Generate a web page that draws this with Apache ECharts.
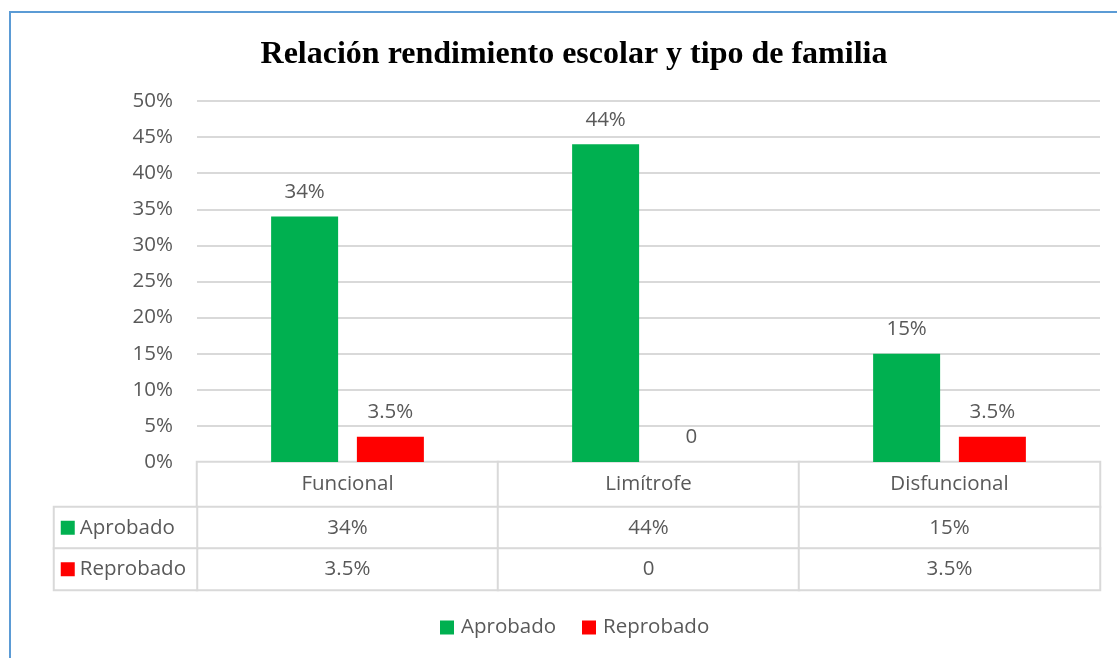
<!DOCTYPE html>
<html>
<head>
<meta charset="utf-8">
<script src="https://cdn.jsdelivr.net/npm/echarts@6/dist/echarts.min.js"></script>
<style>
html,body{margin:0;padding:0;background:#fff;}
#frame{position:absolute;left:9px;top:11px;width:1200px;height:700px;border:2px solid #5b9bd5;box-sizing:border-box;}
#c{position:absolute;left:0;top:0;width:1117px;height:658px;}
</style>
</head>
<body>
<div id="frame"></div>
<div id="c"></div>
<script>
const titleText = 'Relación rendimiento escolar y tipo de familia';
const categories = ['Funcional', 'Limítrofe', 'Disfuncional'];
const seriesNames = ['Aprobado', 'Reprobado'];
const aprobado = [34, 44, 15];
const reprobado = [3.5, 0, 3.5];
const yTicks = [0, 5, 10, 15, 20, 25, 30, 35, 40, 45, 50];
const colors = ['#00b050', '#ff0000'];

const FONT = '"Open Sans", "Noto Sans", sans-serif';
const FS = 20.5;
const TXT = '#595959';
const GRIDC = '#d9d9d9';
const fmt = v => v === 0 ? '0' : v + '%';

const seriesVals = [aprobado, reprobado];

// table data
const headerData = categories.map((c, i) => ({value: [i, 0, 1], txt: c}));
const bodyData = [];
seriesVals.forEach((arr, r) => arr.forEach((v, i) => bodyData.push({value: [i, r, 1], txt: fmt(v)})));
const nameData = seriesNames.map((n, r) => ({value: [0, r, 1], txt: '{s' + r + '|}{t|' + n + '}'}));

const cellStyle = {color: '#ffffff', borderColor: GRIDC, borderWidth: 2};
const cellLabel = {
  show: true, color: TXT, fontFamily: FONT, fontSize: FS,
  formatter: p => p.data.txt
};

const chart = echarts.init(document.getElementById('c'), null, {renderer: 'canvas'});
chart.setOption({
  animation: false,
  backgroundColor: 'transparent',
  title: {
    text: titleText, left: 569, textAlign: 'center', top: 34,
    textStyle: {fontFamily: '"Liberation Serif", "Times New Roman", serif', fontWeight: 'bold', fontSize: 32, color: '#000'}
  },
  legend: {
    data: seriesNames, left: 440, top: 617, padding: 0, itemWidth: 14, itemHeight: 14, itemGap: 26, icon: 'rect',
    textStyle: {fontFamily: FONT, fontSize: FS, color: TXT, padding: [0, 0, 0, 2]}
  },
  grid: [
    {left: 197, right: 17, top: 101, bottom: 196},
    {left: 197, right: 17, top: 462, bottom: 151},
    {left: 197, right: 17, top: 507, bottom: 68},
    {left: 54, right: 920, top: 507, bottom: 68}
  ],
  xAxis: [
    {type: 'category', gridIndex: 0, data: categories, axisLabel: {show: false}, axisTick: {show: false},
     axisLine: {lineStyle: {color: GRIDC, width: 2}}},
    {type: 'category', gridIndex: 1, data: categories, show: false},
    {type: 'category', gridIndex: 2, data: categories, show: false},
    {type: 'category', gridIndex: 3, data: [''], show: false}
  ],
  yAxis: [
    {type: 'value', gridIndex: 0, min: 0, max: 50, interval: 5,
     axisLabel: {formatter: '{value}%', color: TXT, fontFamily: FONT, fontSize: FS, margin: 24},
     splitLine: {lineStyle: {color: GRIDC, width: 2}}, axisLine: {show: false}, axisTick: {show: false}},
    {type: 'category', gridIndex: 1, data: ['h'], show: false},
    {type: 'category', gridIndex: 2, data: seriesNames, inverse: true, show: false},
    {type: 'category', gridIndex: 3, data: seriesNames, inverse: true, show: false}
  ],
  series: [
    {name: seriesNames[0], type: 'bar', xAxisIndex: 0, yAxisIndex: 0, data: aprobado, barWidth: 67, barGap: '28%',
     itemStyle: {color: colors[0]},
     label: {show: true, position: 'top', distance: 14, color: TXT, fontFamily: FONT, fontSize: FS, formatter: p => fmt(p.value)}},
    {name: seriesNames[1], type: 'bar', xAxisIndex: 0, yAxisIndex: 0, data: reprobado, barWidth: 67,
     itemStyle: {color: colors[1]},
     label: {show: true, position: 'top', distance: 14, color: TXT, fontFamily: FONT, fontSize: FS, formatter: p => fmt(p.value)}},
    {type: 'heatmap', xAxisIndex: 1, yAxisIndex: 1, data: headerData, itemStyle: cellStyle, label: cellLabel,
     emphasis: {disabled: true}},
    {type: 'heatmap', xAxisIndex: 2, yAxisIndex: 2, data: bodyData, itemStyle: cellStyle, label: cellLabel,
     emphasis: {disabled: true}},
    {type: 'heatmap', xAxisIndex: 3, yAxisIndex: 3, data: nameData, itemStyle: cellStyle,
     emphasis: {disabled: true},
     label: {show: true, position: 'insideLeft', distance: 8, formatter: p => p.data.txt,
       rich: {
         s0: {backgroundColor: colors[0], width: 14, height: 14},
         s1: {backgroundColor: colors[1], width: 14, height: 14},
         t: {color: TXT, fontFamily: FONT, fontSize: FS, padding: [0, 0, 0, 5]}
       }}}
  ]
});
</script>
</body>
</html>
